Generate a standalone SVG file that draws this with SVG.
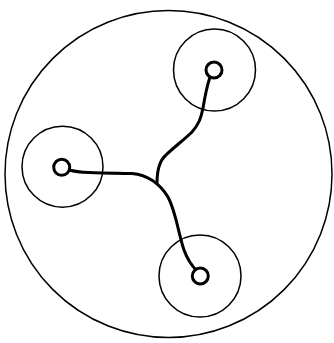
<svg xmlns="http://www.w3.org/2000/svg" width="334" height="343" viewBox="0 0 334 343">
<style>
.ring{fill:none;stroke:#000;stroke-width:1.5}
.hub{fill:#fff;stroke:#000;stroke-width:3}
.wire{fill:none;stroke:#000;stroke-width:3;stroke-linecap:round;stroke-linejoin:round}
</style>
<rect width="334" height="343" fill="#fff"/>
<g id="boundary"><circle class="ring" cx="168.5" cy="174" r="163.5"/></g>
<g id="connectors">
<path class="wire" d="M69,170 C80,173 95,173 132,173.5 C148,175 160,184 168,197 C176,212 178,232 184,250 C188,261 193,267 197,271"/>
<path class="wire" d="M157,183 C157,170 159,161 166,155 C173,148 185,139 192,132 C199,124 201,118 203,108 C205,96 207,86 210,77"/>
</g>
<g id="node-top"><circle class="ring" cx="214.5" cy="70" r="41"/><circle class="hub" cx="214" cy="70" r="8"/></g>
<g id="node-left"><circle class="ring" cx="62.5" cy="166.7" r="40.5"/><circle class="hub" cx="61.7" cy="167.3" r="8"/></g>
<g id="node-bottom"><circle class="ring" cx="200" cy="276" r="41"/><circle class="hub" cx="200.3" cy="276" r="8"/></g>
</svg>
